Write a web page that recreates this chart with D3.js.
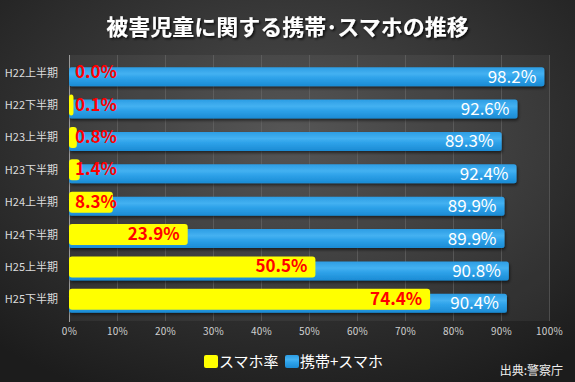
<!DOCTYPE html>
<html>
<head>
<meta charset="utf-8">
<script src="https://d3js.org/d3.v7.min.js"></script>
<style>
  body { margin: 0; background: #222; }
  svg { display: block; font-family: "Noto Sans CJK JP", "Noto Sans", sans-serif; }
</style>
</head>
<body>
<script>
// data
var periods = ["H22上半期", "H22下半期", "H23上半期", "H23下半期", "H24上半期", "H24下半期", "H25上半期", "H25下半期"];
var smartRate = [0.0, 0.1, 0.8, 1.4, 8.3, 23.9, 50.5, 74.4];
var mobileRate = [98.2, 92.6, 89.3, 92.4, 89.9, 89.9, 90.8, 90.4];
var xTicks = [0, 10, 20, 30, 40, 50, 60, 70, 80, 90, 100];
var legendNames = ["スマホ率", "携帯+スマホ"];

var W = 575, H = 382;
var svg = d3.select("body").append("svg").attr("width", W).attr("height", H);
var defs = svg.append("defs");

var bg = defs.append("radialGradient").attr("id", "bg")
    .attr("cx", "50%").attr("cy", "35%").attr("r", "75%");
bg.append("stop").attr("offset", "0%").attr("stop-color", "#4d4d4d");
bg.append("stop").attr("offset", "100%").attr("stop-color", "#1c1c1c");

var blue = defs.append("linearGradient").attr("id", "blue")
    .attr("x1", 0).attr("y1", 0).attr("x2", 0).attr("y2", 1);
blue.append("stop").attr("offset", "0%").attr("stop-color", "#2c9de4");
blue.append("stop").attr("offset", "35%").attr("stop-color", "#44b1f1");
blue.append("stop").attr("offset", "55%").attr("stop-color", "#2fa3ea");
blue.append("stop").attr("offset", "100%").attr("stop-color", "#1b8bd4");

var sh = defs.append("filter").attr("id", "shadow").attr("x", "-5%").attr("y", "-30%").attr("width", "115%").attr("height", "180%");
sh.append("feDropShadow").attr("dx", 1).attr("dy", 2).attr("stdDeviation", 1.5)
    .attr("flood-color", "#000").attr("flood-opacity", 0.55);

var tsh = defs.append("filter").attr("id", "tshadow");
tsh.append("feDropShadow").attr("dx", 1.5).attr("dy", 1.5).attr("stdDeviation", 0.8)
    .attr("flood-color", "#000").attr("flood-opacity", 0.8);

svg.append("rect").attr("width", W).attr("height", H).attr("fill", "url(#bg)");

var x = d3.scaleLinear().domain([0, 100]).range([69, 549]);
var y = d3.scaleBand().domain(periods).range([57, 316]);

// title
svg.append("text")
    .attr("x", W / 2).attr("y", 35)
    .attr("text-anchor", "middle")
    .attr("fill", "#fff")
    .attr("font-size", 22).attr("font-weight", "bold")
    .attr("filter", "url(#tshadow)")
    .text("被害児童に関する携帯･スマホの推移");

// plot background and grid
svg.append("rect").attr("x", x(0)).attr("y", 55).attr("width", x(100) - x(0)).attr("height", 266)
    .attr("fill", "rgba(255,255,255,0.05)");

svg.append("g").selectAll("line").data(xTicks.slice(1)).join("line")
    .attr("x1", d => x(d) + 0.5).attr("x2", d => x(d) + 0.5)
    .attr("y1", 55).attr("y2", 321)
    .attr("stroke", "#6a6a6a").attr("stroke-width", 1).attr("opacity", 0.6);

svg.append("line").attr("x1", x(0) + 0.5).attr("x2", x(0) + 0.5)
    .attr("y1", 55).attr("y2", 322).attr("stroke", "#9a9a9a");

var xAxis = svg.append("g").attr("transform", "translate(0,325)")
    .call(d3.axisBottom(x).tickValues(xTicks).tickFormat(d => d + "%").tickSize(0));
xAxis.select(".domain").remove();
xAxis.selectAll("text").attr("fill", "#d0d0d0").attr("font-size", 10)
    .attr("letter-spacing", 0.3)
    .attr("font-family", "'Noto Sans CJK JP', sans-serif");

var yAxis = svg.append("g").attr("transform", "translate(58,0)")
    .call(d3.axisLeft(y).tickSize(0).tickPadding(0));
yAxis.select(".domain").remove();
yAxis.selectAll("text").attr("fill", "#dcdcdc").attr("font-size", 11)
    .attr("font-family", "'Noto Sans CJK JP', sans-serif");

function mid(p) { return y(p) + y.bandwidth() / 2; }
function barW(v) { return v > 0 ? x(v) - x(0) + 4 : 0; }

// blue bars (携帯+スマホ)
svg.append("g").selectAll("rect").data(periods).join("rect")
    .attr("x", x(0)).attr("y", d => mid(d) - 6)
    .attr("width", (d, i) => barW(mobileRate[i])).attr("height", 19)
    .attr("rx", 2.5)
    .attr("fill", "url(#blue)").attr("filter", "url(#shadow)");

// yellow bars (スマホ率)
svg.append("g").selectAll("rect").data(periods).join("rect")
    .attr("x", x(0)).attr("y", d => mid(d) - 11)
    .attr("width", (d, i) => barW(smartRate[i])).attr("height", 21)
    .attr("rx", 3)
    .attr("fill", "#ffff00");

// white labels
svg.append("g").selectAll("text").data(periods).join("text")
    .attr("x", (d, i) => x(0) + barW(mobileRate[i]) - 8)
    .attr("y", d => mid(d) + 9.5)
    .attr("text-anchor", "end")
    .attr("fill", "#fff").attr("font-size", 17)
    .text((d, i) => mobileRate[i].toFixed(1) + "%");

// red labels
var red = svg.append("g").selectAll("text").data(periods).join("text")
    .attr("y", d => mid(d) + 5)
    .attr("fill", "#ff0000").attr("font-size", 17).attr("font-weight", "bold")
    .text((d, i) => smartRate[i].toFixed(1) + "%");
red.attr("x", function (d, i) {
    var w = this.getComputedTextLength();
    return Math.max(x(0) + barW(smartRate[i]) - 8 - w, x(0) + 6);
});

// legend
var lg = svg.append("g");
var lgX = [204, 285];
var lgColors = ["#ffff00", "url(#blue)"];
legendNames.forEach(function (n, i) {
    lg.append("rect").attr("x", lgX[i]).attr("y", 355).attr("width", 14).attr("height", 13)
        .attr("rx", 2).attr("fill", lgColors[i]);
    lg.append("text").attr("x", lgX[i] + 15).attr("y", 367)
        .attr("fill", "#fff").attr("font-size", 15).text(n);
});

svg.append("text").attr("x", 563).attr("y", 375).attr("text-anchor", "end")
    .attr("fill", "#f0f0f0").attr("font-size", 12)
    .text("出典:警察庁");
</script>
</body>
</html>
